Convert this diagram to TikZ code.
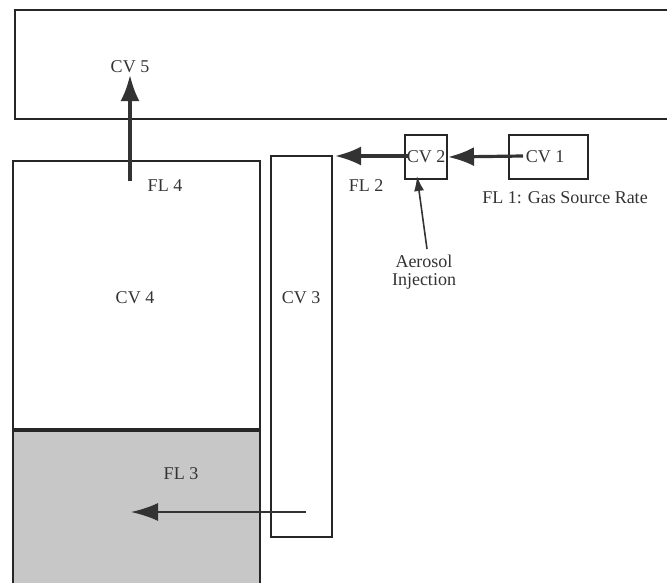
\documentclass[tikz,border=0pt]{standalone}
\usepackage{fontspec}
\setmainfont{Liberation Serif}
\usetikzlibrary{arrows.meta}
\begin{document}
\begin{tikzpicture}[x=1pt,y=-1pt,
  box/.style={draw=black!85,line width=2pt,inner sep=0pt},
  lbl/.style={font=\fontsize{18}{20}\selectfont,text=black!80,inner sep=0pt},
  flow/.style={draw=black!80,line width=3.2pt,-{Latex[length=26pt,width=19pt]}},
  thinflow/.style={draw=black!80,line width=2pt,-{Latex[length=27pt,width=18pt]}}]
\useasboundingbox (0,0) rectangle (667,582);
% boxes
\node[box,minimum width=680pt,minimum height=109pt,anchor=north west] (cv5) at (14,9) {};
\fill[black!22] (12,430) rectangle (259,590);
\node[box,minimum width=247pt,minimum height=440pt,anchor=north west] (cv4) at (12,160) {};
\draw[black!85,line width=3.5pt] (12,430) -- (259,430);
\node[box,minimum width=61pt,minimum height=381pt,anchor=north west] (cv3) at (270,155) {};
\node[box,minimum width=42pt,minimum height=44pt,anchor=north west] (cv2) at (404,134) {};
\node[box,minimum width=79pt,minimum height=44pt,anchor=north west] (cv1) at (508,134) {};
% labels
\node[lbl] (t5) at (130,67) {CV 5};
\node[lbl] (t4) at (165,186) {FL 4};
\node[lbl] (tcv4) at (135,298) {CV 4};
\node[lbl] (tcv3) at (301,298) {CV 3};
\node[lbl] (tcv2) at (426,157) {CV 2};
\node[lbl] (tcv1) at (545,157) {CV 1};
\node[lbl] (tfl2) at (366,186) {FL 2};
\node[lbl] (tfl1) at (565,198) {FL 1: Gas Source Rate};
\node[lbl,align=center,font=\fontsize{18}{18}\selectfont] (aer) at (424,272) {Aerosol\\Injection};
\node[lbl] (tfl3) at (181,474) {FL 3};
% coordinates
\coordinate (a4s) at (130,181);
\coordinate (a4e) at (130,75);
\coordinate (a1s) at (523,156);
\coordinate (a2s) at (408,156);
\coordinate (a2e) at (335,156);
\coordinate (ais) at (427,249);
\coordinate (aie) at (417,176);
\coordinate (a3s) at (306,512);
\coordinate (a3e) at (131,512);
% arrows
\draw[flow] (a4s) -- (a4e);
\draw[flow] (a1s) -- (cv1.west -| cv2.east);
\draw[flow] (a2s) -- (a2e);
\draw[draw=black!80,line width=1.6pt,-{Latex[length=15pt,width=10pt]}] (ais) -- (aie);
\draw[thinflow] (a3s) -- (a3e);
\end{tikzpicture}
\end{document}
